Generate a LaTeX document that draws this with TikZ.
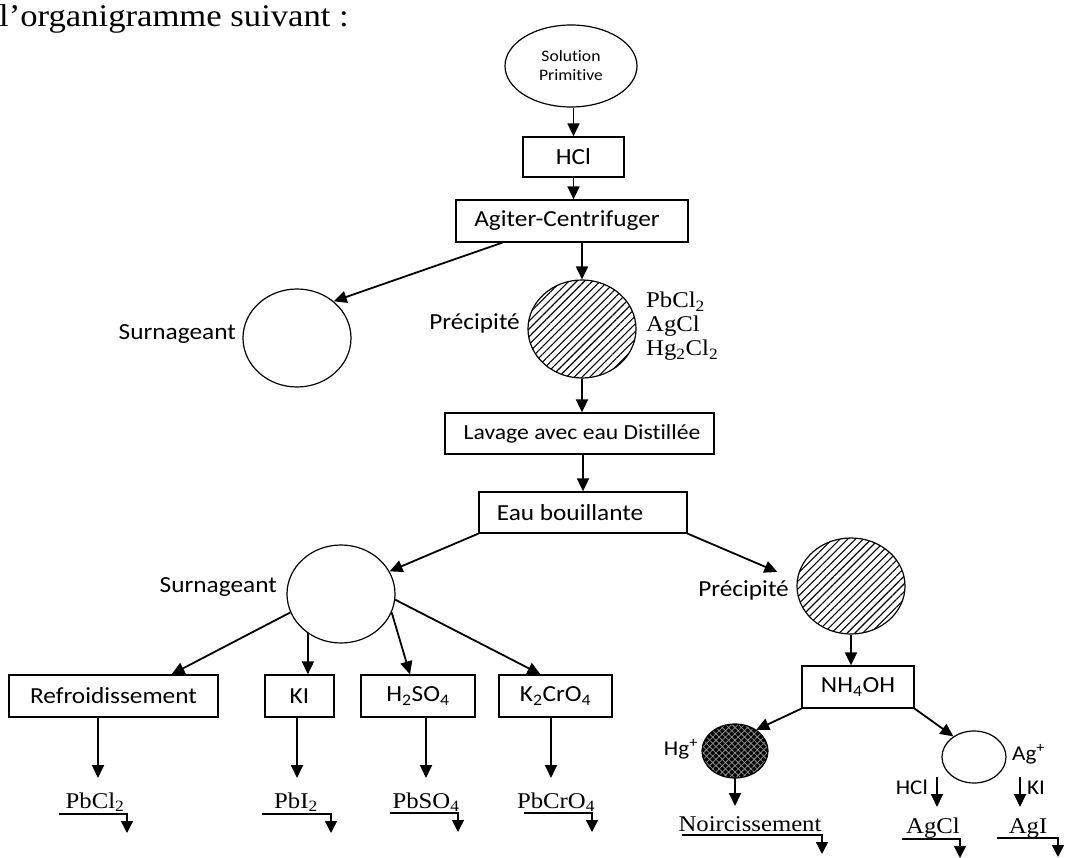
\documentclass[tikz,border=0pt]{standalone}
\usepackage{fontspec}
\setmainfont{Liberation Serif}[FakeStretch=1.1]
\newfontfamily\calfont{Carlito}[FakeStretch=1.1, Ligatures=NoCommon]
\usetikzlibrary{arrows.meta,shapes.geometric,patterns.meta,calc}
\tikzset{
  box/.style={draw, line width=1.3pt, rectangle, inner sep=0pt, font=\calfont\fontsize{23}{27}\selectfont},
  circ/.style={draw, ellipse, line width=1.2pt, inner sep=0pt},
  hatch/.style={circ, pattern={Lines[angle=45,distance=5.5pt,line width=1.1pt]}},
  lab/.style={inner sep=0pt, font=\calfont\fontsize{23}{27}\selectfont},
  slab/.style={inner sep=0pt, font=\calfont\fontsize{21}{25}\selectfont},
  chem/.style={inner sep=0pt, font=\fontsize{22.5}{24}\selectfont},
  arr/.style={line width=1.8pt, -{Triangle[width=12pt,length=13pt]}},
  sarr/.style={line width=1.4pt, -{Triangle[width=12pt,length=12pt]}},
}
\begin{document}
\begin{tikzpicture}[x=1pt,y=-1pt]
\useasboundingbox (0,0) rectangle (1069,858);
% header
\node[inner sep=0pt, anchor=base west, font=\fontsize{31.5}{34}\selectfont] (head) at (-1,27) {l’organigramme suivant :};
% top chain
\node[circ, minimum width=132pt, minimum height=82pt, align=center, font=\calfont\fontsize{16}{19}\selectfont] (sol) at (571,66) {Solution\\Primitive};
\node[box, minimum width=101pt, minimum height=40pt] (hcl) at (573.5,157) {HCl};
\node[box, minimum width=232pt, minimum height=42pt] (agit) at (572,221) {Agiter-Centrifuger\kern10pt};
\node[circ, minimum width=108pt, minimum height=98pt] (s1) at (297,338) {};
\node[lab, anchor=base east] (s1l) at (236,340) {Surnageant};
\node[hatch, minimum width=108pt, minimum height=98pt] (p1) at (582,329) {};
\node[lab, anchor=base east] (p1l) at (520,330) {Précipité};
\node[chem, anchor=base west] (c1) at (646,308) {PbCl\textsubscript{2}};
\node[chem, anchor=base west] (c2) at (646,332) {AgCl};
\node[chem, anchor=base west] (c3) at (646,356) {Hg\textsubscript{2}Cl\textsubscript{2}};
\node[box, minimum width=269pt, minimum height=41pt, font=\calfont\fontsize{21.5}{26}\selectfont] (lav) at (579.5,433.5) {\kern5pt Lavage avec eau Distillée};
\node[box, minimum width=208pt, minimum height=41pt] (eau) at (583,512.5) {Eau bouillante\kern26pt};
% left branch
\node[circ, minimum width=108pt, minimum height=98pt] (s2) at (341,594) {};
\node[lab, anchor=base east] (s2l) at (277,592) {Surnageant};
\node[box, minimum width=209pt, minimum height=42pt] (refr) at (113.5,696) {Refroidissement};
\node[box, minimum width=69pt, minimum height=42pt] (ki) at (299.5,696) {KI};
\node[box, minimum width=114pt, minimum height=42pt] (hso) at (418,696) {H\textsubscript{2}SO\textsubscript{4}};
\node[box, minimum width=113pt, minimum height=42pt] (kcr) at (555.5,696) {K\textsubscript{2}CrO\textsubscript{4}};
\node[chem, anchor=base] (r1) at (95,808) {PbCl\textsubscript{2}};
\node[chem, anchor=base] (r2) at (296,808) {PbI\textsubscript{2}};
\node[chem, anchor=base] (r3) at (426,808) {PbSO\textsubscript{4}};
\node[chem, anchor=base] (r4) at (556,808) {PbCrO\textsubscript{4}};
% right branch
\node[hatch, minimum width=108pt, minimum height=96pt] (p2) at (851,586) {};
\node[lab, anchor=base east] (p2l) at (789,596) {Précipité};
\node[box, minimum width=112pt, minimum height=42pt] (nh) at (858,687) {NH\textsubscript{4}OH};
\node[circ, minimum width=66pt, minimum height=54pt, preaction={fill=black}, pattern={Hatch[angle=45,distance=4.5pt,line width=0.8pt]}, pattern color=black!45] (hg) at (735,751) {};
\node[slab, anchor=base east] (hgl) at (698,755) {Hg\textsuperscript{+}};
\node[circ, minimum width=64pt, minimum height=52pt] (ag) at (974,757) {};
\node[slab, anchor=base west] (agl) at (1012,760) {Ag\textsuperscript{+}};
\node[slab, anchor=base east] (hcll) at (928,794) {HCl};
\node[slab, anchor=base west] (kil) at (1027,794) {KI};
\node[chem, anchor=base] (noir) at (750,831) {Noircissement};
\node[chem, anchor=base] (agcl) at (933,833) {AgCl};
\node[chem, anchor=base] (agi) at (1028,833) {AgI};
% coordinates
\coordinate (t1) at (98,778);
\coordinate (t2) at (297,778);
\coordinate (t3) at (426,778);
\coordinate (t4) at (551,778);
\coordinate (thg) at (735,806);
\coordinate (hA) at (937,777);
\coordinate (kA) at (1020,777);
\coordinate (u1a) at (59,814);   \coordinate (u1b) at (127,814);
\coordinate (u2a) at (262,814);  \coordinate (u2b) at (331,814);
\coordinate (u3a) at (390,813);  \coordinate (u3b) at (458,813);
\coordinate (u4a) at (524,813);  \coordinate (u4b) at (592,813);
\coordinate (u5a) at (682,835);  \coordinate (u5b) at (822,835);
\coordinate (u6a) at (902,839);  \coordinate (u6b) at (960,839);
\coordinate (u7a) at (997,838);  \coordinate (u7b) at (1058,838);
% connectors
\draw[arr] (sol.south -| hcl.north) -- (hcl.north);
\draw[arr] (hcl.south) -- (hcl.south |- agit.north);
\draw[arr] (agit.south -| p1.north) -- (p1.north);
\draw[arr] ($(agit.south west)+(47,0)$) -- (s1.45);
\draw[arr] (p1.south) -- (p1.south |- lav.north);
\draw[arr] (lav.south -| eau.north) -- (eau.north);
\draw[arr] (eau.south west) -- (s2.25);
\draw[arr] (eau.south east) -- ($(p2.west)+(-19,-14)$);
\draw[arr] (s2.200) -- ($(refr.north)+(58,0)$);
\draw[arr] (s2.230) -- (s2.230 |- ki.north);
\draw[arr] (s2.340) -- ($(hso.north)+(-8,0)$);
\draw[arr] (s2.354) -- ($(kcr.north)+(-15,0)$);
\draw[arr] (refr.south -| t1) -- (t1);
\draw[arr] (ki.south -| t2) -- (t2);
\draw[arr] (hso.south -| t3) -- (t3);
\draw[arr] (kcr.south -| t4) -- (t4);
\draw[arr] (p2.south) -- (p2.south |- nh.north);
\draw[arr] (nh.south west) -- (hg.45);
\draw[arr] (nh.south east) -- (ag.135);
\draw[arr] (hg.south) -- (thg);
\draw[arr] (hA) -- ++(0,30);
\draw[arr] (kA) -- ++(0,30);
\draw[sarr] (u1a) -- (u1b) -- ++(0,19);
\draw[sarr] (u2a) -- (u2b) -- ++(0,19);
\draw[sarr] (u3a) -- (u3b) -- ++(0,19);
\draw[sarr] (u4a) -- (u4b) -- ++(0,19);
\draw[sarr] (u5a) -- (u5b) -- ++(0,19);
\draw[sarr] (u6a) -- (u6b) -- ++(0,19);
\draw[sarr] (u7a) -- (u7b) -- ++(0,19);
\end{tikzpicture}
\end{document}
